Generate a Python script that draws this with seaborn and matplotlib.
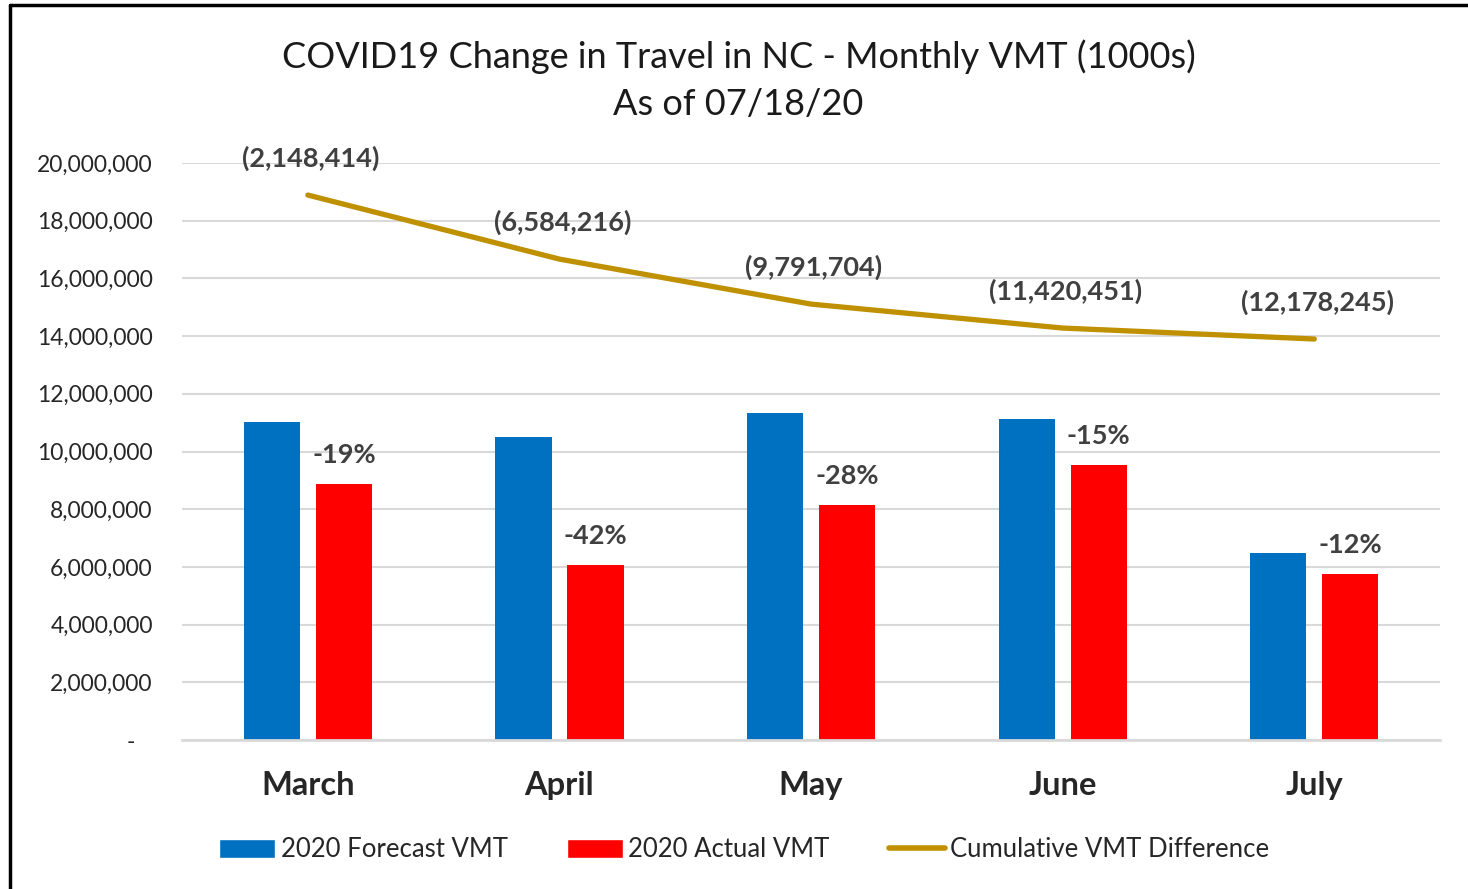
import numpy as np
import pandas as pd
import matplotlib
matplotlib.use("Agg")
import matplotlib.pyplot as plt
from matplotlib.patches import Patch
from matplotlib.lines import Line2D
from matplotlib.ticker import FuncFormatter
import seaborn as sns

# Data
months = ['March', 'April', 'May', 'June', 'July']
forecast_vmt = [11020000, 10500000, 11330000, 11130000, 6480000]
actual_vmt = [8870000, 6070000, 8150000, 9530000, 5750000]
cumulative_diff = [18890000, 16670000, 15110000, 14280000, 13900000]
pct_labels = ['-19%', '-42%', '-28%', '-15%', '-12%']
diff_labels = ['(2,148,414)', '(6,584,216)', '(9,791,704)', '(11,420,451)', '(12,178,245)']

series_names = ['2020 Forecast VMT', '2020 Actual VMT']
line_name = 'Cumulative VMT Difference'
colors = {'2020 Forecast VMT': '#0070C0', '2020 Actual VMT': '#FF0000'}
line_color = '#BF9000'

sns.set_style("white")
plt.rcParams['font.family'] = ['Lato', 'DejaVu Sans']

df = pd.DataFrame({
    'month': months * 2,
    'series': [series_names[0]] * len(months) + [series_names[1]] * len(months),
    'vmt': forecast_vmt + actual_vmt,
})

fig = plt.figure(figsize=(14.68, 8.89), dpi=100)
ax = fig.add_axes([0.124, 0.1676, 0.857, 0.649])

sns.barplot(data=df, x='month', y='vmt', hue='series', palette=colors,
            width=0.572, gap=0.22, dodge=True, ax=ax, legend=False,
            saturation=1, edgecolor='none')
sns.lineplot(x=months, y=cumulative_diff, color=line_color, linewidth=3.8,
             ax=ax, sort=False, legend=False)

ax.set_ylim(0, 20000000)
ax.set_xlim(-0.5, 4.5)
ax.set_yticks(np.arange(0, 20000001, 2000000))
ax.yaxis.set_major_formatter(FuncFormatter(lambda v, p: '-   ' if v == 0 else f'{int(v):,}'))
ax.yaxis.grid(True, color='#D9D9D9', linewidth=1.5)
ax.set_axisbelow(True)
for s in ['top', 'right', 'left']:
    ax.spines[s].set_visible(False)
ax.spines['bottom'].set_color('#D9D9D9')
ax.spines['bottom'].set_linewidth(2)
ax.tick_params(axis='y', length=0, pad=21, labelsize=16.5, labelcolor='#262626')
ax.tick_params(axis='x', length=0, pad=22, labelsize=23.5)
for lbl in ax.get_xticklabels():
    lbl.set_fontweight('bold')
ax.set_xlabel('')
ax.set_ylabel('')

# percentage labels above actual bars
for i, (v, t) in enumerate(zip(actual_vmt, pct_labels)):
    ax.annotate(t, xy=(i + 0.143, v), xytext=(0, 12), textcoords='offset points',
                ha='center', va='bottom', fontsize=19.5, fontweight='bold', color='#404040')

# cumulative difference labels
for i, (v, t) in enumerate(zip(cumulative_diff, diff_labels)):
    ax.annotate(t, xy=(i, v), xytext=(2, 17), textcoords='offset points',
                ha='center', va='bottom', fontsize=19.5, fontweight='bold', color='#404040')

fig.text(0.503, 0.936, 'COVID19 Change in Travel in NC - Monthly VMT (1000s)',
         ha='center', va='center', fontsize=26, color='#1a1a1a')
fig.text(0.503, 0.882, 'As of 07/18/20', ha='center', va='center',
         fontsize=26, color='#1a1a1a')

handles = [Patch(facecolor=colors[series_names[0]]),
           Patch(facecolor=colors[series_names[1]]),
           Line2D([0], [0], color=line_color, linewidth=4)]
fig.legend(handles, series_names + [line_name], loc='center', ncol=3,
           bbox_to_anchor=(0.507, 0.044), frameon=False, fontsize=18.5,
           handlelength=2.2, handleheight=0.8, handletextpad=0.2,
           columnspacing=2.3, labelcolor='#262626')

# chart frame (left and top edges visible)
fig.add_artist(Line2D([0.0065, 0.0065], [0, 0.994], transform=fig.transFigure,
                      color='black', linewidth=2.5))
fig.add_artist(Line2D([0.0065, 1.0], [0.994, 0.994], transform=fig.transFigure,
                      color='black', linewidth=2.5))

fig.savefig('out.png', dpi=100)
